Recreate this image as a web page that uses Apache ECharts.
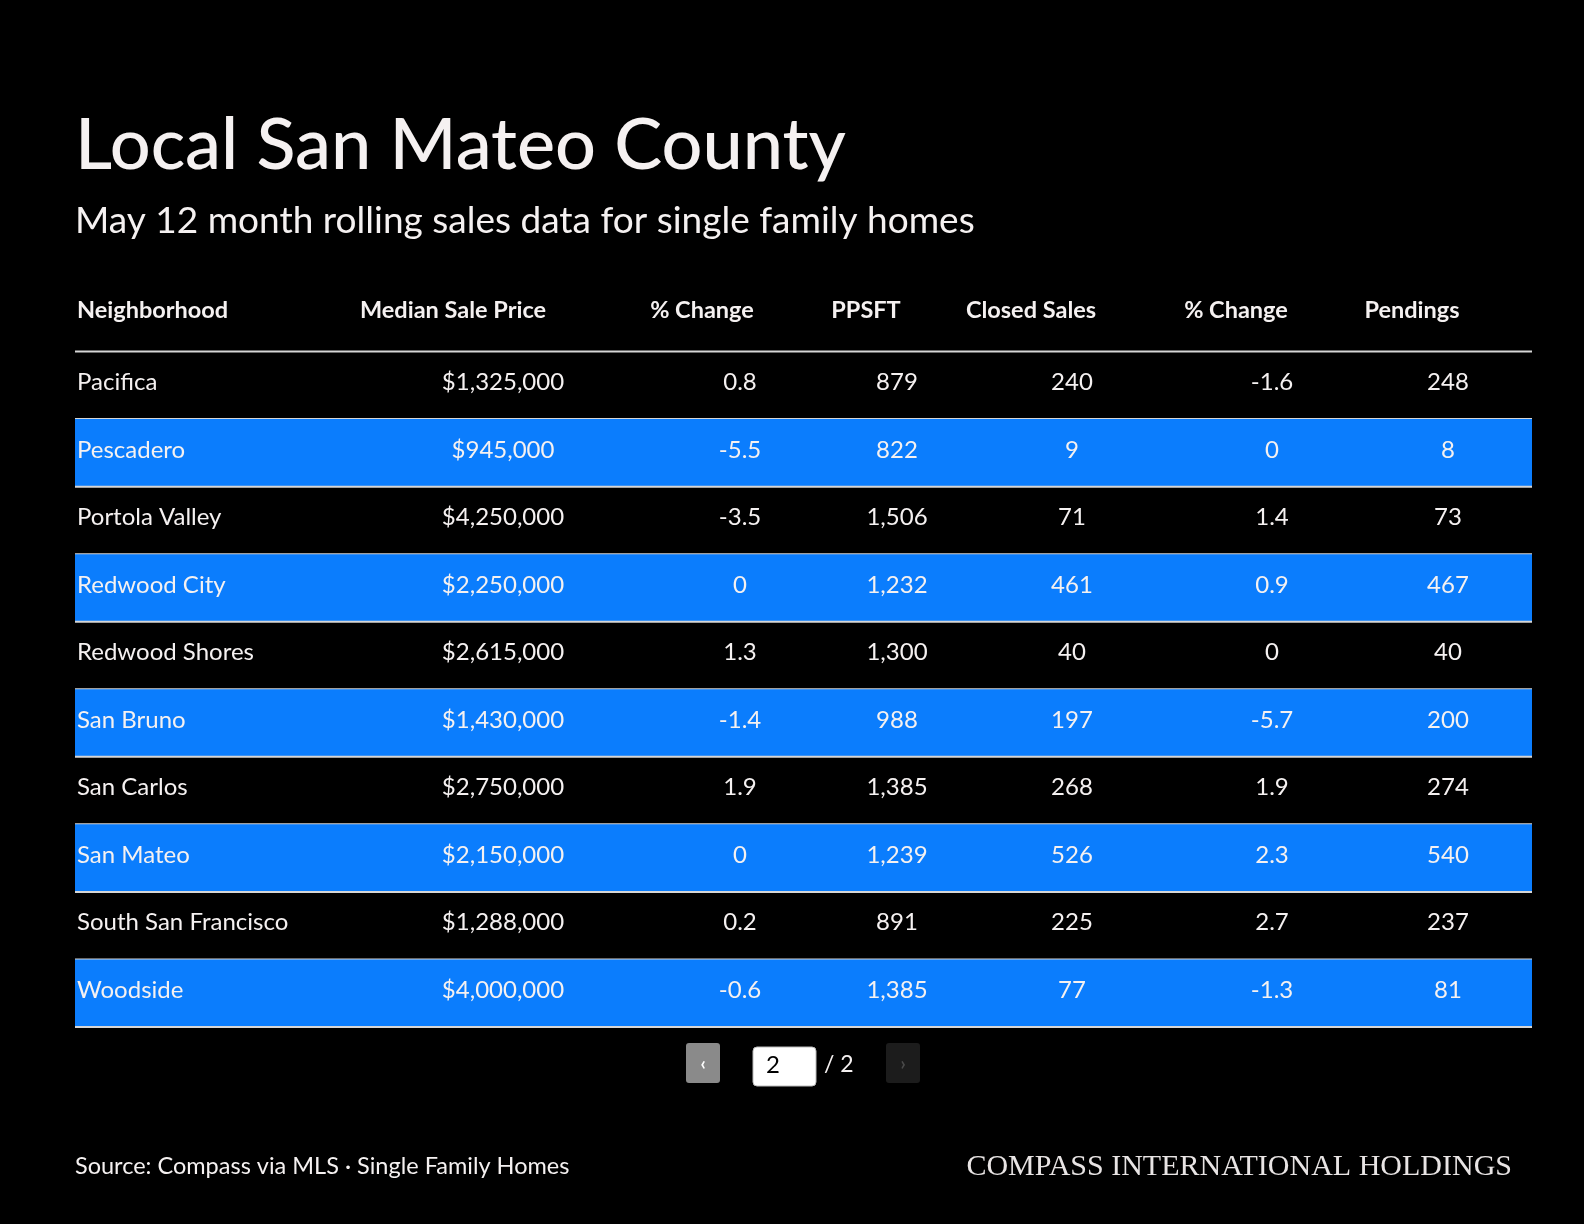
<!DOCTYPE html>
<html>
<head>
<meta charset="utf-8">
<script src="https://cdn.jsdelivr.net/npm/echarts@6/dist/echarts.min.js"></script>
<style>
  html, body { margin: 0; padding: 0; background: #000; }
  #chart { width: 1584px; height: 1224px; }
</style>
</head>
<body>
<div id="chart"></div>
<script>
// table data (page 2 of 2)
var headers = ['Neighborhood', 'Median Sale Price', '% Change', 'PPSFT', 'Closed Sales', '% Change', 'Pendings'];
var neighborhoods = ['Pacifica', 'Pescadero', 'Portola Valley', 'Redwood City', 'Redwood Shores',
  'San Bruno', 'San Carlos', 'San Mateo', 'South San Francisco', 'Woodside'];
var medianPrice = [1325000, 945000, 4250000, 2250000, 2615000, 1430000, 2750000, 2150000, 1288000, 4000000];
var priceChange = [0.8, -5.5, -3.5, 0, 1.3, -1.4, 1.9, 0, 0.2, -0.6];
var ppsft = [879, 822, 1506, 1232, 1300, 988, 1385, 1239, 891, 1385];
var closedSales = [240, 9, 71, 461, 40, 197, 268, 526, 225, 77];
var salesChange = [-1.6, 0, 1.4, 0.9, 0, -5.7, 1.9, 2.3, 2.7, -1.3];
var pendings = [248, 8, 73, 467, 40, 200, 274, 540, 237, 81];

// layout of the columns inside the table (axis units = px of table width)
var TABLE_W = 1457;
var headerX = [2, 378, 627, 791, 956, 1161, 1337];
var valueX = [2, 428, 665, 822, 997, 1197, 1373];

var FONT = 'Lato, "Noto Sans", sans-serif';
var WHITE = '#f5f1f1';
var BLUE = '#0b7dfd';

function fmt(n) { return n.toLocaleString('en-US'); }

function rowCells(r) {
  return [
    neighborhoods[r],
    '$' + fmt(medianPrice[r]),
    String(priceChange[r]),
    fmt(ppsft[r]),
    fmt(closedSales[r]),
    String(salesChange[r]),
    fmt(pendings[r])
  ];
}

var rowNames = ['header'].concat(neighborhoods);
var rows = rowNames.map(function (n, i) { return [0, i]; });

function renderRow(params, api) {
  var i = params.dataIndex;
  var c = api.coord([0, i]);
  var band = api.size([0, 1])[1];
  var x0 = c[0];
  var x1 = api.coord([TABLE_W, i])[0];
  var cy = c[1];
  var children = [];
  var isHeader = i === 0;
  // every second data row gets the blue band
  if (!isHeader && i % 2 === 0) {
    children.push({
      type: 'rect',
      shape: { x: x0, y: cy - band / 2, width: x1 - x0, height: band },
      style: { fill: BLUE }
    });
  }
  children.push({
    type: 'line',
    shape: { x1: x0, y1: cy + band / 2, x2: x1, y2: cy + band / 2 },
    style: { stroke: '#d6d6d6', lineWidth: 2 }
  });
  var cells = isHeader ? headers : rowCells(i - 1);
  var xs = isHeader ? headerX : valueX;
  for (var k = 0; k < cells.length; k++) {
    children.push({
      type: 'text',
      x: api.coord([xs[k], i])[0],
      y: cy + (isHeader ? -7 : -3),
      style: {
        text: cells[k],
        fill: WHITE,
        font: isHeader ? 'bold 23.5px ' + FONT : '24px ' + FONT,
        textAlign: k === 0 ? 'left' : 'center',
        textVerticalAlign: 'middle'
      }
    });
  }
  return { type: 'group', children: children };
}

var chart = echarts.init(document.getElementById('chart'));
chart.setOption({
  backgroundColor: '#000',
  animation: false,
  grid: { left: 75, top: 284, width: TABLE_W, height: 743 },
  xAxis: { type: 'value', min: 0, max: TABLE_W, show: false },
  yAxis: { type: 'category', data: rowNames, inverse: true, show: false },
  series: [{
    type: 'custom',
    renderItem: renderRow,
    data: rows,
    clip: false,
    silent: true
  }],
  graphic: [
    { type: 'text', x: 75, y: 146, style: { text: 'Local San Mateo County', fill: WHITE, font: '500 72px ' + FONT, textVerticalAlign: 'middle' } },
    { type: 'text', x: 75, y: 221, style: { text: 'May 12 month rolling sales data for single family homes', fill: WHITE, font: '37px ' + FONT, textVerticalAlign: 'middle' } },
    // pagination
    { type: 'rect', shape: { x: 686, y: 1043, width: 34, height: 40, r: 3 }, style: { fill: '#8a8a8a' } },
    { type: 'text', x: 703, y: 1064, style: { text: '‹', fill: '#fff', font: 'bold 18px ' + FONT, textAlign: 'center', textVerticalAlign: 'middle' } },
    { type: 'rect', shape: { x: 753, y: 1047, width: 63, height: 39, r: 4 }, style: { fill: '#fff', stroke: '#bbb', lineWidth: 1 } },
    { type: 'text', x: 766, y: 1065, style: { text: '2', fill: '#000', font: '24px ' + FONT, textVerticalAlign: 'middle' } },
    { type: 'text', x: 824, y: 1065, style: { text: '/ 2', fill: WHITE, font: '23px ' + FONT, textVerticalAlign: 'middle' } },
    { type: 'rect', shape: { x: 886, y: 1043, width: 34, height: 40, r: 3 }, style: { fill: '#1c1c1c' } },
    { type: 'text', x: 903, y: 1064, style: { text: '›', fill: '#4a4a4a', font: 'bold 18px ' + FONT, textAlign: 'center', textVerticalAlign: 'middle' } },
    // footer
    { type: 'text', x: 75, y: 1166, style: { text: 'Source: Compass via MLS \u00b7 Single Family Homes', fill: WHITE, font: '23.5px ' + FONT, textVerticalAlign: 'middle' } },
    { type: 'text', x: 1512, y: 1167, style: { text: 'COMPASS INTERNATIONAL HOLDINGS', fill: '#e8e4e4', font: '30px "Liberation Serif", serif', textAlign: 'right', textVerticalAlign: 'middle' } }
  ]
});
</script>
</body>
</html>
